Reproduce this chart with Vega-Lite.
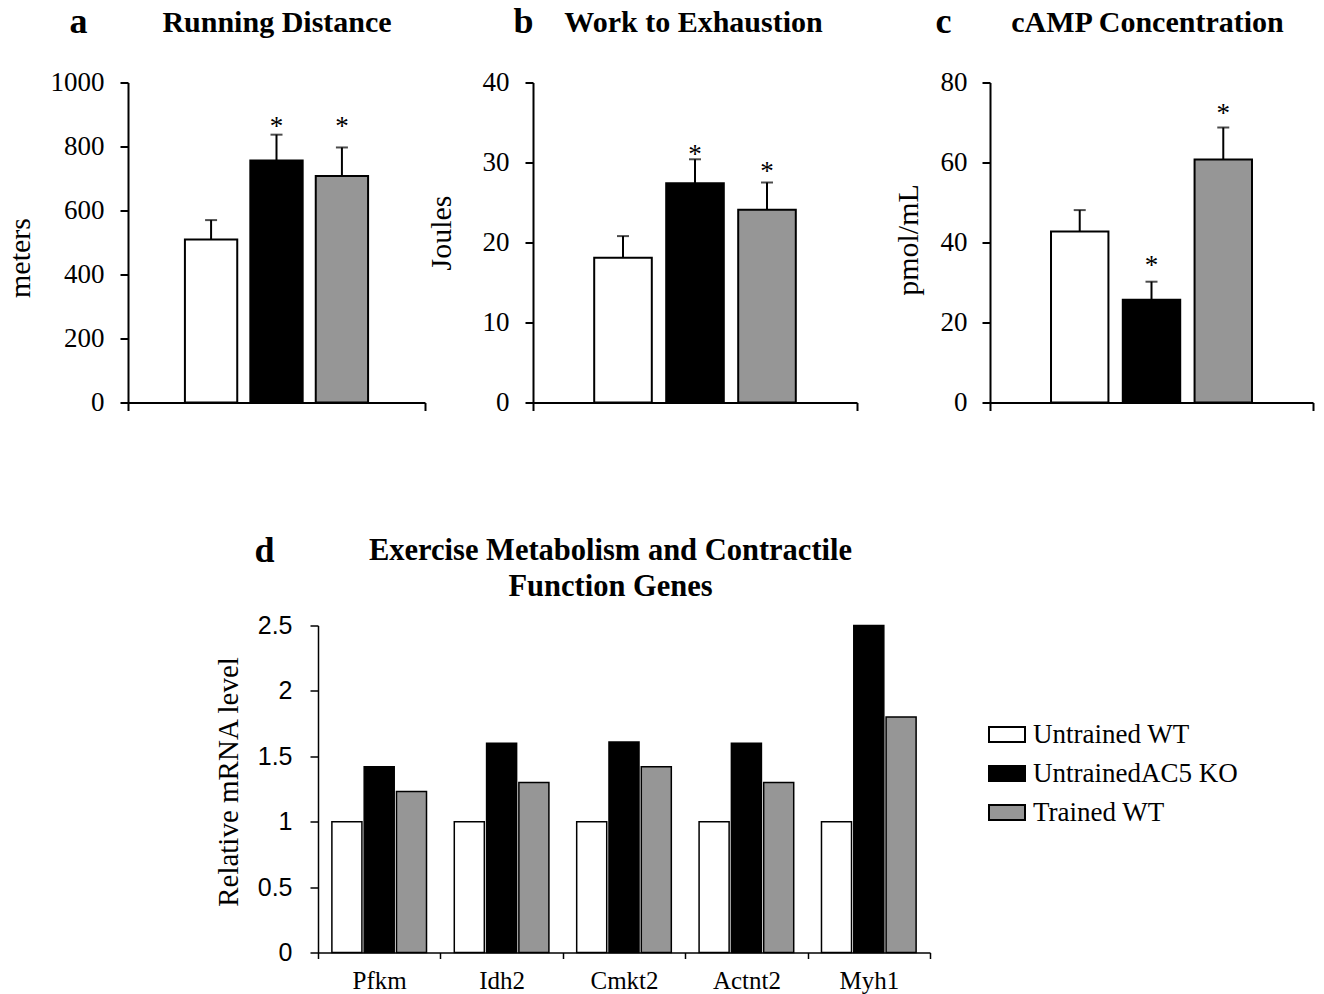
{
  "$schema": "https://vega.github.io/schema/vega-lite/v6.json",
  "background": "white",
  "padding": {"left": 5, "top": 3.5, "right": 5, "bottom": 5},
  "config": {
    "view": {"stroke": null},
    "font": "Liberation Serif",
    "axis": {"grid": false, "domainColor": "black", "tickColor": "black", "labelColor": "black", "titleColor": "black", "labelFont": "Liberation Serif", "titleFont": "Liberation Serif", "titleFontWeight": "normal"}
  },
  "datasets": {
    "top": [
      {"panel": "a", "group": "Untrained WT", "value": 509, "err": 570, "sig": "", "star": null},
      {"panel": "a", "group": "UntrainedAC5 KO", "value": 756, "err": 837, "sig": "*", "star": 880},
      {"panel": "a", "group": "Trained WT", "value": 708, "err": 797, "sig": "*", "star": 880},
      {"panel": "b", "group": "Untrained WT", "value": 18.1, "err": 20.8, "sig": "", "star": null},
      {"panel": "b", "group": "UntrainedAC5 KO", "value": 27.4, "err": 30.4, "sig": "*", "star": 31.7},
      {"panel": "b", "group": "Trained WT", "value": 24.1, "err": 27.5, "sig": "*", "star": 29.6},
      {"panel": "c", "group": "Untrained WT", "value": 42.75, "err": 48.1, "sig": "", "star": null},
      {"panel": "c", "group": "UntrainedAC5 KO", "value": 25.7, "err": 30.2, "sig": "*", "star": 35.7},
      {"panel": "c", "group": "Trained WT", "value": 60.75, "err": 68.75, "sig": "*", "star": 73.75}
    ],
    "genes": [
      {"gene": "Pfkm", "group": "\u00a0Untrained WT", "value": 1},
      {"gene": "Pfkm", "group": "UntrainedAC5 KO", "value": 1.42},
      {"gene": "Pfkm", "group": "Trained WT", "value": 1.23},
      {"gene": "Idh2", "group": "\u00a0Untrained WT", "value": 1},
      {"gene": "Idh2", "group": "UntrainedAC5 KO", "value": 1.6},
      {"gene": "Idh2", "group": "Trained WT", "value": 1.3},
      {"gene": "Cmkt2", "group": "\u00a0Untrained WT", "value": 1},
      {"gene": "Cmkt2", "group": "UntrainedAC5 KO", "value": 1.61},
      {"gene": "Cmkt2", "group": "Trained WT", "value": 1.42},
      {"gene": "Actnt2", "group": "\u00a0Untrained WT", "value": 1},
      {"gene": "Actnt2", "group": "UntrainedAC5 KO", "value": 1.6},
      {"gene": "Actnt2", "group": "Trained WT", "value": 1.3},
      {"gene": "Myh1", "group": "\u00a0Untrained WT", "value": 1},
      {"gene": "Myh1", "group": "UntrainedAC5 KO", "value": 2.5},
      {"gene": "Myh1", "group": "Trained WT", "value": 1.8}
    ]
  },
  "resolve": {"scale": {"fill": "independent", "xOffset": "independent"}, "legend": {"fill": "independent"}},
  "spacing": 117,
  "vconcat": [
    {
      "bounds": "flush",
      "spacing": 0,
      "resolve": {"scale": {"fill": "independent", "xOffset": "independent"}, "legend": {"fill": "independent"}},
      "hconcat": [
        {
          "width": 297,
          "height": 320,
          "data": {"name": "top"},
          "transform": [{"filter": "datum.panel === 'a'"}],
          "resolve": {"axis": {"x": "independent", "y": "independent"}},
          "encoding": {
            "x": {"field": "panel", "type": "nominal", "scale": {"paddingInner": 0, "paddingOuter": 0}, "axis": null},
            "xOffset": {"field": "group", "type": "nominal", "sort": ["Untrained WT", "UntrainedAC5 KO", "Trained WT"], "scale": {"paddingInner": 0.2, "paddingOuter": 0.87}}
          },
          "layer": [
            {
              "mark": {"type": "bar", "stroke": "black", "strokeWidth": 2},
              "encoding": {
                "x": {"field": "panel", "type": "nominal", "axis": {"title": null, "labels": false, "tickBand": "extent", "tickSize": 8, "tickWidth": 2, "domainWidth": 2}},
                "y": {"field": "value", "type": "quantitative", "scale": {"domain": [0, 1000], "nice": false}, "axis": {"title": "meters", "values": [0, 200, 400, 600, 800, 1000], "format": "d", "labelFontSize": 27, "tickSize": 8, "tickWidth": 2, "domainWidth": 2, "labelPadding": 16, "titleFontSize": 30, "titlePadding": 15, "titleY": 175}},
                "fill": {"field": "group", "type": "nominal", "scale": {"domain": ["Untrained WT", "UntrainedAC5 KO", "Trained WT"], "range": ["white", "black", "#969696"]}, "legend": null}
              }
            },
            {
              "mark": {"type": "rule", "strokeWidth": 2, "color": "black"},
              "encoding": {
                "x": {"field": "panel", "type": "nominal", "axis": {"orient": "top", "domain": false, "ticks": false, "labels": false, "title": "Running Distance", "titleFontSize": 30, "titleFontWeight": "bold", "titleBaseline": "alphabetic", "titleY": -51}},
                "y": {"field": "value", "type": "quantitative", "axis": null},
                "y2": {"field": "err"}
              }
            },
            {
              "mark": {"type": "tick", "size": 12, "thickness": 2, "color": "black"},
              "encoding": {
                "y": {"field": "err", "type": "quantitative", "axis": {"orient": "right", "domain": false, "ticks": false, "labels": false, "title": "a", "titleAngle": 0, "titleFontSize": 36, "titleFontWeight": "bold", "titleAlign": "left", "titleBaseline": "alphabetic", "titleX": -356, "titleY": -50}}
              }
            },
            {
              "transform": [{"filter": "datum.sig === '*'"}],
              "mark": {"type": "text", "fontSize": 27, "dy": 6, "baseline": "middle", "font": "Liberation Serif", "color": "black"},
              "encoding": {"y": {"field": "star", "type": "quantitative", "axis": null}, "text": {"field": "sig"}}
            }
          ]
        },
        {
          "width": 108,
          "height": 320,
          "data": {"values": [{}]},
          "mark": {"type": "point", "opacity": 0},
          "encoding": {}
        },
        {
          "width": 324,
          "height": 320,
          "data": {"name": "top"},
          "transform": [{"filter": "datum.panel === 'b'"}],
          "resolve": {"axis": {"x": "independent", "y": "independent"}},
          "encoding": {
            "x": {"field": "panel", "type": "nominal", "scale": {"paddingInner": 0, "paddingOuter": 0}, "axis": null},
            "xOffset": {"field": "group", "type": "nominal", "sort": ["Untrained WT", "UntrainedAC5 KO", "Trained WT"], "scale": {"paddingInner": 0.2, "paddingOuter": 0.85}}
          },
          "layer": [
            {
              "mark": {"type": "bar", "stroke": "black", "strokeWidth": 2},
              "encoding": {
                "x": {"field": "panel", "type": "nominal", "axis": {"title": null, "labels": false, "tickBand": "extent", "tickSize": 8, "tickWidth": 2, "domainWidth": 2}},
                "y": {"field": "value", "type": "quantitative", "scale": {"domain": [0, 40], "nice": false}, "axis": {"title": "Joules", "values": [0, 10, 20, 30, 40], "format": "d", "labelFontSize": 27, "tickSize": 8, "tickWidth": 2, "domainWidth": 2, "labelPadding": 16, "titleFontSize": 30, "titlePadding": 26, "titleY": 150}},
                "fill": {"field": "group", "type": "nominal", "scale": {"domain": ["Untrained WT", "UntrainedAC5 KO", "Trained WT"], "range": ["white", "black", "#969696"]}, "legend": null}
              }
            },
            {
              "mark": {"type": "rule", "strokeWidth": 2, "color": "black"},
              "encoding": {
                "x": {"field": "panel", "type": "nominal", "axis": {"orient": "top", "domain": false, "ticks": false, "labels": false, "title": "Work to Exhaustion", "titleFontSize": 30, "titleFontWeight": "bold", "titleBaseline": "alphabetic", "titleY": -51, "titleX": 160}},
                "y": {"field": "value", "type": "quantitative", "axis": null},
                "y2": {"field": "err"}
              }
            },
            {
              "mark": {"type": "tick", "size": 12, "thickness": 2, "color": "black"},
              "encoding": {
                "y": {"field": "err", "type": "quantitative", "axis": {"orient": "right", "domain": false, "ticks": false, "labels": false, "title": "b", "titleAngle": 0, "titleFontSize": 36, "titleFontWeight": "bold", "titleAlign": "left", "titleBaseline": "alphabetic", "titleX": -344, "titleY": -50}}
              }
            },
            {
              "transform": [{"filter": "datum.sig === '*'"}],
              "mark": {"type": "text", "fontSize": 27, "dy": 6, "baseline": "middle", "font": "Liberation Serif", "color": "black"},
              "encoding": {"y": {"field": "star", "type": "quantitative", "axis": null}, "text": {"field": "sig"}}
            }
          ]
        },
        {
          "width": 133,
          "height": 320,
          "data": {"values": [{}]},
          "mark": {"type": "point", "opacity": 0},
          "encoding": {}
        },
        {
          "width": 323,
          "height": 320,
          "data": {"name": "top"},
          "transform": [{"filter": "datum.panel === 'c'"}],
          "resolve": {"axis": {"x": "independent", "y": "independent"}},
          "encoding": {
            "x": {"field": "panel", "type": "nominal", "scale": {"paddingInner": 0, "paddingOuter": 0}, "axis": null},
            "xOffset": {"field": "group", "type": "nominal", "sort": ["Untrained WT", "UntrainedAC5 KO", "Trained WT"], "scale": {"paddingInner": 0.2, "paddingOuter": 0.85}}
          },
          "layer": [
            {
              "mark": {"type": "bar", "stroke": "black", "strokeWidth": 2},
              "encoding": {
                "x": {"field": "panel", "type": "nominal", "axis": {"title": null, "labels": false, "tickBand": "extent", "tickSize": 8, "tickWidth": 2, "domainWidth": 2}},
                "y": {"field": "value", "type": "quantitative", "scale": {"domain": [0, 80], "nice": false}, "axis": {"title": "pmol/mL", "values": [0, 20, 40, 60, 80], "format": "d", "labelFontSize": 27, "tickSize": 8, "tickWidth": 2, "domainWidth": 2, "labelPadding": 15, "titleFontSize": 30, "titlePadding": 17, "titleY": 157}},
                "fill": {"field": "group", "type": "nominal", "scale": {"domain": ["Untrained WT", "UntrainedAC5 KO", "Trained WT"], "range": ["white", "black", "#969696"]}, "legend": null}
              }
            },
            {
              "mark": {"type": "rule", "strokeWidth": 2, "color": "black"},
              "encoding": {
                "x": {"field": "panel", "type": "nominal", "axis": {"orient": "top", "domain": false, "ticks": false, "labels": false, "title": "cAMP Concentration", "titleFontSize": 30, "titleFontWeight": "bold", "titleBaseline": "alphabetic", "titleY": -51, "titleX": 157}},
                "y": {"field": "value", "type": "quantitative", "axis": null},
                "y2": {"field": "err"}
              }
            },
            {
              "mark": {"type": "tick", "size": 12, "thickness": 2, "color": "black"},
              "encoding": {
                "y": {"field": "err", "type": "quantitative", "axis": {"orient": "right", "domain": false, "ticks": false, "labels": false, "title": "c", "titleAngle": 0, "titleFontSize": 36, "titleFontWeight": "bold", "titleAlign": "left", "titleBaseline": "alphabetic", "titleX": -378, "titleY": -50}}
              }
            },
            {
              "transform": [{"filter": "datum.sig === '*'"}],
              "mark": {"type": "text", "fontSize": 27, "dy": 6, "baseline": "middle", "font": "Liberation Serif", "color": "black"},
              "encoding": {"y": {"field": "star", "type": "quantitative", "axis": null}, "text": {"field": "sig"}}
            }
          ]
        }
      ]
    },
    {
      "bounds": "flush",
      "spacing": 0,
      "resolve": {"scale": {"fill": "independent", "xOffset": "independent"}, "legend": {"fill": "independent"}},
      "hconcat": [
        {
          "width": 190,
          "height": 10,
          "data": {"values": [{}]},
          "mark": {"type": "point", "opacity": 0},
          "encoding": {}
        },
        {
          "width": 612,
          "height": 327,
          "data": {"name": "genes"},
          "resolve": {"axis": {"x": "independent", "y": "independent"}},
          "encoding": {
            "x": {"field": "gene", "type": "nominal", "sort": ["Pfkm", "Idh2", "Cmkt2", "Actnt2", "Myh1"], "scale": {"paddingInner": 0, "paddingOuter": 0}, "axis": null},
            "xOffset": {"field": "group", "type": "nominal", "sort": ["\u00a0Untrained WT", "UntrainedAC5 KO", "Trained WT"], "scale": {"paddingInner": 0.07, "paddingOuter": 0.43}}
          },
          "layer": [
            {
              "mark": {"type": "bar", "stroke": "black", "strokeWidth": 1.5},
              "encoding": {
                "x": {"field": "gene", "type": "nominal", "sort": ["Pfkm", "Idh2", "Cmkt2", "Actnt2", "Myh1"], "axis": {"title": null, "labelAngle": 0, "tickBand": "extent", "tickSize": 6, "tickWidth": 1.5, "domainWidth": 1.5, "labelFontSize": 25, "labelPadding": 10, "labelFont": "Liberation Serif"}},
                "y": {"field": "value", "type": "quantitative", "scale": {"domain": [0, 2.5], "nice": false}, "axis": {"title": "Relative mRNA level", "values": [0, 0.5, 1, 1.5, 2, 2.5], "format": "~g", "labelFont": "Liberation Sans", "labelFontSize": 25, "tickSize": 8, "tickWidth": 1.5, "domainWidth": 1.5, "labelPadding": 18, "titleFontSize": 29, "titlePadding": 14, "titleY": 156}},
                "fill": {
                  "field": "group",
                  "type": "nominal",
                  "scale": {"domain": ["\u00a0Untrained WT", "UntrainedAC5 KO", "Trained WT"], "range": ["white", "black", "#969696"]},
                  "legend": {
                    "orient": "none",
                    "legendX": 670,
                    "legendY": 90,
                    "title": null,
                    "padding": 0,
                    "symbolType": "M-1,-0.417H1V0.417H-1Z",
                    "symbolSize": 1296,
                    "symbolStrokeColor": "black",
                    "symbolStrokeWidth": 2,
                    "symbolOpacity": 1,
                    "labelFont": "Liberation Serif",
                    "labelFontSize": 27,
                    "labelColor": "black",
                    "labelOffset": 7,
                    "labelLimit": 400,
                    "rowPadding": 7
                  }
                }
              }
            },
            {
              "mark": {"type": "bar", "opacity": 0},
              "encoding": {
                "x": {"field": "gene", "type": "nominal", "sort": ["Pfkm", "Idh2", "Cmkt2", "Actnt2", "Myh1"], "axis": {"orient": "top", "domain": false, "ticks": false, "labels": false, "title": ["Exercise Metabolism and Contractile", "Function Genes"], "titleFontSize": 30.5, "titleFontWeight": "bold", "titleLineHeight": 36, "titleBaseline": "alphabetic", "titleY": -66, "titleX": 292}},
                "y": {"field": "value", "type": "quantitative", "axis": null}
              }
            },
            {
              "mark": {"type": "bar", "opacity": 0},
              "encoding": {
                "y": {"field": "value", "type": "quantitative", "axis": {"orient": "right", "domain": false, "ticks": false, "labels": false, "title": "d", "titleAngle": 0, "titleFontSize": 36, "titleFontWeight": "bold", "titleAlign": "left", "titleBaseline": "alphabetic", "titleX": -676, "titleY": -64}}
              }
            }
          ]
        }
      ]
    }
  ]
}
